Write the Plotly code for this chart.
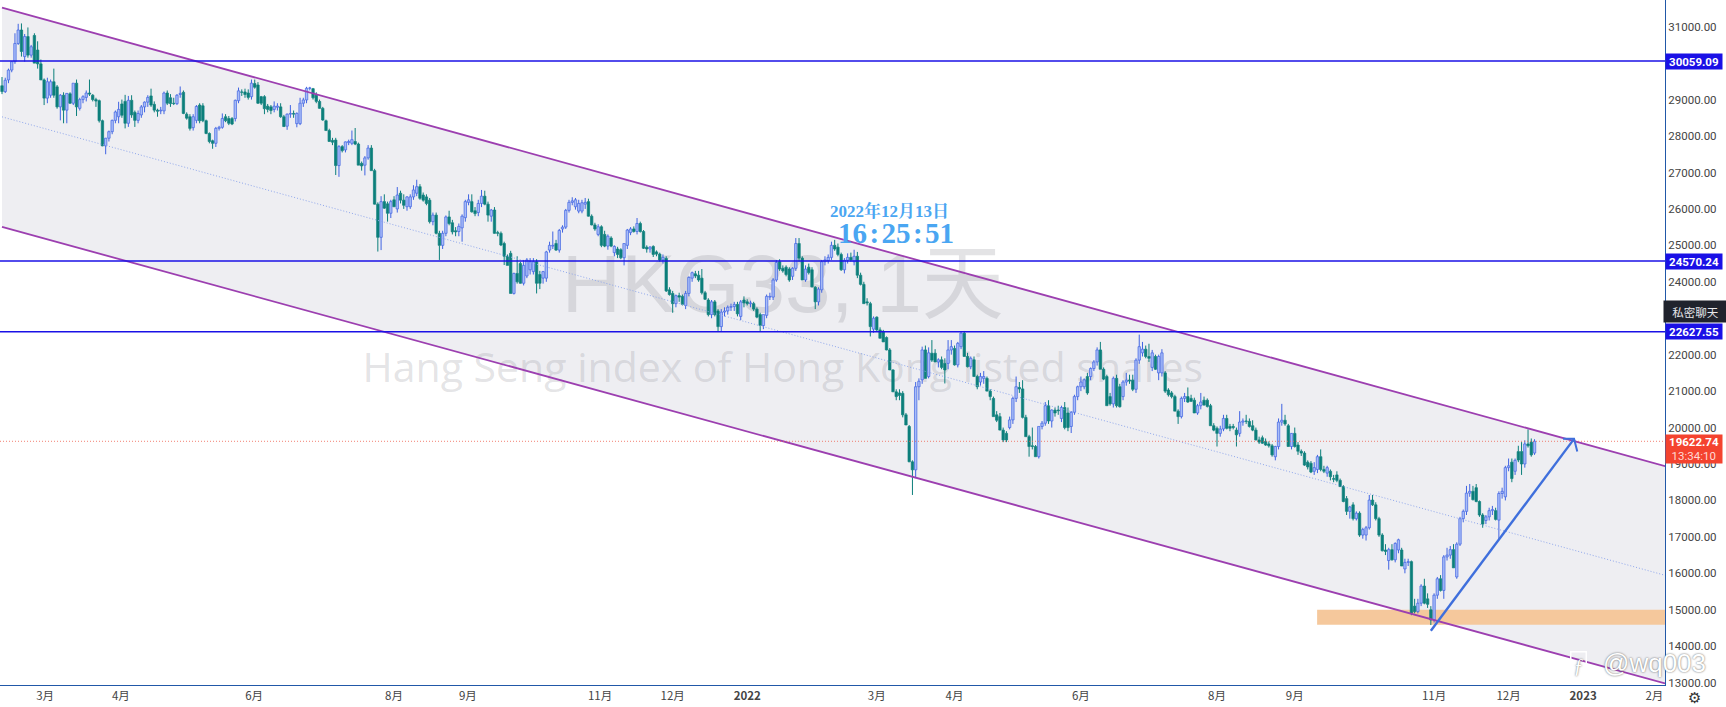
import plotly.graph_objects as go

open_px = [29380,29220,29540,29810,30040,30540,30910,30180,30730,30220,
30760,30360,29980,29540,29040,29120,29490,29350,28800,29120,
28710,29160,28900,29450,28760,29000,29060,29180,29120,29000,
28970,28420,27730,27940,28120,28430,28530,28880,28950,28350,
28980,28650,28430,28580,28800,28930,29100,28870,28710,28690,
28690,29180,29050,28900,28890,29140,29200,28600,28530,28230,
28430,28850,28830,28420,28070,27870,27800,28210,28240,28530,
28480,28480,28480,28970,29210,29210,29180,29080,29440,29400,
29080,29080,28820,28800,28730,28790,28800,28530,28270,28600,
28620,28340,28340,28900,28990,29310,29300,29120,28950,28760,
28420,28150,27880,27890,27190,27710,27620,27820,27800,27850,
27780,27250,27200,27400,27670,27050,26130,25220,26200,26140,
25880,26250,26000,26430,26240,26060,26060,26330,26430,26610,26380,26330,26240,25650,25830,25330,25000,25330,25780,25620,25400,25380,25480,25760,26180,26200,25950,25900,26150,26350,26130,25800,25970,25350,25330,25050,24700,24780,23680,24230,24500,23960,24160,24330,24280,24550,24200,24100,24100,24870,24980,25050,24870,25450,25500,25960,26180,
26060,25940,25940,26130,26200,25800,25560,25300,25510,25300,
24980,25200,24800,24900,24880,24660,25000,25350,25450,25380,
25600,25380,24950,24900,24970,24820,24760,24600,24640,23780,23680,23400,23620,23600,23350,23680,24100,24220,24180,24100,23700,23500,23100,23450,23200,22770,23170,23200,23300,23320,23380,23050,23500,23450,23400,23400,23250,23100,22800,23080,23580,23580,24050,24550,24370,24400,24350,24150,24370,25050,24650,24050,24400,24330,23850,23450,23780,24550,24580,24670,25000,24950,24750,24330,24590,24670,24550,24700,24180,23930,23450,23400,22700,23030,22680,22620,22470,22130,21580,20980,20950,20940,20350,20030,19060,18840,21120,21310,22130,21400,22040,22040,21800,21860,21760,21760,22130,22170,21720,22220,22590,21950,21670,21860,21400,21250,21350,21350,21000,20800,20350,20300,19930,19840,20000,20210,20800,21100,21060,20280,19750,19500,19480,19200,20030,20120,20600,20180,20480,20480,20250,20550,20400,20030,20420,20850,21120,21120,21400,21400,21620,21800,22130,21600,21400,20850,20650,21350,21120,20850,21250,21300,21300,21050,21850,22050,22150,21950,
21650,21950,21500,21500,21500,21030,20950,20850,20450,20300,20800,20850,20800,20750,20400,20600,20750,20750,20600,20050,19980,19840,19960,20250,20030,20030,19930,19840,20150,20180,20170,20050,19930,19660,19720,19620,19550,19500,19200,19480,20150,20200,20050,19480,19840,19520,19350,19300,19050,19020,18800,18850,19200,18850,18750,18800,18600,18700,18550,18380,18050,17700,17880,17500,17650,17050,17050,17250,18010,17880,17500,17050,16640,16350,16650,16370,16640,16640,16120,16300,16320,15100,14950,15180,15650,15300,15000,14720,15400,15850,15530,16450,16500,16650,15900,16800,17500,17700,18200,18250,18350,17970,17600,17450,17550,17720,17720,17460,18190,18100,18900,19050,18800,19340,19340,19000,19550,19600,19300]

high_px = [29620,29600,29850,30040,30820,31080,31090,30800,30980,30500,
30820,30600,30100,29580,29600,29550,29850,29400,29150,29200,
29180,29200,29450,29550,29050,29120,29250,29550,29150,29050,
29000,28450,27950,28150,28450,28700,28940,29000,29130,29100,
29120,28700,28700,28850,28950,29120,29300,28950,28750,28800,
29220,29250,29150,29050,29150,29360,29250,28650,28600,28600,
28850,28900,28900,28450,28100,27900,28250,28280,28620,28600,
28550,28520,29000,29330,29280,29300,29280,29550,29550,29480,
29100,29120,28880,28850,28950,28900,28900,28580,28620,28850,
28700,28650,29050,29050,29350,29350,29320,29200,29000,28800,
28450,28200,27950,27950,27750,27750,27850,27900,28150,28220,
27820,27300,27450,27750,27750,27100,26180,26350,26400,26200,
26250,26350,26600,26500,26400,26350,26400,26650,26800,26680,26450,26400,26300,25900,25900,25400,25400,25820,25950,25700,25500,25600,25850,26250,26400,26400,26050,26250,26520,26500,26200,26000,26050,25400,25380,25100,24750,24850,24250,24700,24550,24600,24650,24650,24650,24620,24300,24300,24850,25100,25380,25150,25450,25550,26000,26250,26320,
26300,26250,26250,26300,26280,25850,25620,25580,25550,25400,
25300,25250,25000,24960,24920,25050,25450,25500,25520,25750,
25650,25420,25000,24980,25000,24860,24800,24750,24700,23850,23750,23650,23700,23650,23750,24150,24280,24300,24300,24350,23750,23550,23500,23500,23250,23250,23300,23350,23400,23450,23450,23500,23600,23520,23480,23450,23300,23150,23100,23650,23700,24100,24600,24620,24450,24450,24400,24400,25200,25200,24700,24450,24500,24400,23880,23850,24600,24700,24750,25100,25150,25050,24800,24650,24780,24800,24880,24820,24250,24000,23550,23450,23050,23050,22750,22680,22500,22180,21600,21050,21050,21000,20400,20070,19100,21250,21350,22220,22250,22200,22400,22150,21900,21950,21900,22400,22400,22250,22350,22620,22650,22050,21950,21950,21450,21500,21550,21400,21050,20850,20450,20400,20000,19900,20300,20850,21400,21250,21300,20350,19800,20000,19520,20030,20180,20700,20750,20500,20550,20600,20600,20700,20550,20450,20900,21150,21400,21350,21500,21650,21850,22200,22350,21650,21450,20950,21400,21450,21200,21300,21500,21450,21450,21900,22550,22350,22250,22300,
22130,22000,22000,22150,21550,21080,21000,20900,20500,20850,20950,21100,20900,20820,20650,20950,20850,20800,20650,20120,20030,20050,20350,20350,20100,20100,20000,20450,20250,20350,20250,20200,20000,19750,19780,19700,19620,19550,19500,20250,20650,20350,20100,19850,20000,19600,19400,19350,19100,19080,19050,19250,19400,18950,18950,18850,18700,18800,18600,18420,18120,17850,17950,17700,17700,17250,17300,18150,18150,17950,17550,17100,16800,16700,16800,16850,16950,16700,16400,16400,16350,15300,15300,15700,15850,15450,15100,15450,15900,15950,16500,16700,16750,16800,16850,17550,17750,18400,18450,18400,18450,18000,17650,17600,17800,17850,17800,18250,18350,18950,19150,19150,19150,19500,19600,19650,19950,19700,19680]

low_px = [29150,29180,29450,29750,29980,30500,30180,30040,30150,30150,
30000,29850,29540,28850,28900,29050,29050,28750,28430,28350,
28350,28880,28850,28550,28700,28900,28950,29100,28950,28800,
28370,27720,27500,27850,28050,28350,28350,28500,28210,28250,
28500,28250,28350,28500,28650,28800,28800,28650,28530,28600,
28600,28850,28800,28850,28850,29050,28600,28450,28150,28150,
28350,28350,28380,28050,27800,27650,27700,28150,28200,28380,
28300,28300,28400,28900,29100,29050,29000,29000,29300,28880,
28850,28600,28650,28600,28650,28700,28500,28250,28170,28500,
28500,28240,28300,28800,28900,29250,29000,28900,28750,28420,
28150,27850,27750,26930,26880,27550,27550,27750,27750,27750,
27200,27050,26920,27350,27050,26120,24830,24870,26000,25650,
25750,26050,25900,26150,26000,25950,26000,26250,26350,26250,26200,26100,25600,25550,25300,24600,24900,25250,25550,25300,25250,25250,25100,25650,26100,25900,25800,25800,26050,26100,25650,25650,25320,25250,24980,24460,24450,23680,23650,23950,23950,23900,24100,24200,24200,23680,23800,23950,24000,24800,24900,24850,24800,25350,25450,25900,26100,
25980,25880,25880,26000,25790,25550,25400,25250,24950,24950,
24880,24950,24700,24650,24620,24450,24900,25280,25350,25300,
25350,24900,24800,24800,24680,24700,24550,24500,23720,23620,23150,23300,23450,23350,23250,23600,24000,24100,24000,23650,23500,23050,23000,23050,22630,22650,23050,23100,23200,23200,23050,22950,23300,23350,23300,23200,23000,22650,22700,23000,23500,23500,24000,24300,24250,24150,24000,24050,24300,24550,24050,24000,24200,23850,23250,23350,23700,24450,24500,24600,24850,24700,24300,24230,24500,24550,24450,24100,23900,23400,23350,22500,22600,22650,22450,22350,22120,21580,20980,20750,20750,20280,20070,19050,18150,18610,20750,21200,21350,21350,21800,21800,21650,21600,21210,21600,22000,21700,21650,22150,21950,21650,21600,21400,21050,21150,21200,21000,20750,20300,20150,19930,19600,19600,19950,20100,20700,20950,20250,19750,19200,19400,19200,19150,19950,20050,20100,20000,20300,20350,20150,19950,19900,19850,20350,20750,21000,21050,20900,21300,21550,21700,21600,21300,20600,20600,20550,20550,20550,20750,21150,21200,21000,20950,21750,21950,21900,21800,
21550,21580,21300,21400,20950,20850,20800,20450,20100,20250,20700,20680,20700,20400,20350,20500,20600,20550,20050,19900,19480,19750,19900,19950,19900,19950,19480,19750,20050,20100,20000,19900,19650,19550,19550,19500,19450,19200,19100,19400,20050,20050,19480,19400,19450,19250,19220,18950,18850,18750,18700,18750,18800,18750,18650,18550,18500,18500,18380,17950,17600,17500,17450,17450,17000,16950,16900,17200,17850,17450,17000,16600,16500,16100,16350,16300,16550,16200,16000,16200,14850,14900,14900,15100,15150,15050,14580,14650,15300,15500,15300,16350,16400,16150,15850,16750,17400,17600,18100,18000,17950,17550,17250,17350,17450,17600,17450,16920,18050,18000,18800,18500,18700,19050,18700,18900,19450,19200,19250]

close_px = [29220,29530,29810,30040,30540,30910,30320,30730,30220,30450,
30000,29980,29540,29040,29490,29490,29120,28800,29120,28710,
29170,28900,29450,28800,29000,29080,29180,29150,29000,28960,
28420,27730,27940,28120,28430,28660,28730,28570,28350,28980,
28580,28430,28620,28800,28930,29060,28850,28710,28680,28710,
29180,28900,28890,28890,29120,29170,28620,28490,28210,28530,
28810,28420,28420,28070,27850,27800,28210,28240,28480,28420,
28350,28330,28980,29240,29200,29140,29060,29450,29340,28900,
28900,28750,28730,28700,28820,28820,28530,28260,28600,28620,
28600,28620,28900,28990,29310,29320,29050,28950,28760,28440,
28150,27850,27830,27190,27710,27600,27840,27850,27900,27780,
27200,27180,27400,27670,27050,26130,25220,26200,26020,25880,
26200,26060,26380,26240,26100,26330,26330,26520,26610,26290,26240,26150,25650,25830,25330,25000,25330,25780,25600,25370,25370,25520,25800,26200,26250,25920,25870,26150,26350,26130,25830,25970,25330,25330,25010,24700,24450,23680,24230,24000,23960,24450,24600,24550,24550,23960,23960,24280,24820,25000,25000,24870,25410,25500,25960,26180,26220,
26250,26150,26170,26180,25800,25560,25450,25510,25000,24980,
25250,24980,24970,24750,24660,25050,25420,25450,25380,25600,
25380,24920,24900,24950,24750,24760,24600,24670,23750,23650,23400,23620,23580,23380,23680,24120,24250,24160,24050,23700,23520,23100,23450,23100,22770,23170,23200,23300,23320,23380,23120,23450,23420,23400,23420,23250,23030,22800,23100,23600,23600,24050,24530,24350,24300,24200,24050,24370,25050,24650,24050,24350,24250,23860,23450,23800,24550,24600,24670,25000,24900,24750,24330,24590,24670,24600,24700,24180,23930,23400,23420,22770,23000,22680,22450,22350,22130,21580,20980,20850,20880,20350,20070,19060,18840,21120,21270,22130,21350,22050,21850,21800,21860,21650,21580,22130,22220,21720,22310,22590,21950,21670,21900,21400,21120,21400,21400,21000,20850,20300,20200,19930,19660,19660,20210,20800,21120,21060,20280,19750,19480,19480,19200,20030,20120,20600,20180,20480,20400,20460,20550,20000,20000,20420,20850,21120,21250,21310,20950,21620,21800,22130,21600,21330,20600,20650,21350,20600,20570,21250,21300,21280,21050,21850,22220,22150,21950,21900,
22050,21600,21950,22050,21000,20900,20850,20450,20300,20800,20850,20700,20720,20400,20600,20700,20620,20580,20050,19930,19840,19960,20250,19980,19980,20000,19800,20150,20180,20170,20030,19930,19660,19600,19570,19520,19500,19250,19480,20150,20200,20100,19480,19840,19480,19350,19300,18970,18920,18780,18900,19200,18850,18800,18900,18650,18580,18550,18380,17970,17700,17820,17500,17650,17050,17200,17250,18010,17880,17500,17050,16620,16600,16650,16370,16820,16920,16200,16300,16320,14900,14950,15180,15650,15180,15150,14720,15400,15850,15530,16450,16500,16650,16150,16800,17500,17700,18200,18250,18020,17970,17600,17350,17550,17720,17750,17480,18190,18250,18900,18950,18600,19100,19110,19000,19550,19500,19250,19622.74]

if not (len(open_px) == len(high_px) == len(low_px) == len(close_px)):
    raise SystemExit(f"lengths {len(open_px)} {len(high_px)} {len(low_px)} {len(close_px)}")
bar_index = list(range(len(close_px)))

month_ticks = [13.3, 36.7, 77.8, 121, 143.8, 184.6, 207, 230, 270, 294, 333, 375, 399, 442, 465, 488, 510]
month_labels = ["3月", "4月", "6月", "8月", "9月", "11月", "12月", "<b>2022</b>", "3月", "4月", "6月", "8月", "9月", "11月", "12月", "<b>2023</b>", "2月"]
price_ticks = list(range(13000, 32000, 1000))

channel_x = [0, 513.3]
channel_upper = [31522, 18940]
channel_mid = [28527, 15945]
channel_lower = [25506, 12978]
level_values = [30059.09, 24570.24, 22627.55]
last_price = 19622.74
zone_x = [405.9, 513.3]
zone_y = [14590, 15000]
arrow_x = [441, 485.2]
arrow_y = [14425, 19690]
arrow_head_x = [481.8, 485.2, 486.2]
arrow_head_y = [19690, 19690, 19340]

X_RANGE = [-0.617, 513.27]
Y_RANGE = [12935, 31733]
PURPLE = "#9c3fb0"
BLUE = "#1a10e6"
UP_LINE = "#3f63e2"
UP_FILL = "#a8bcf8"
DOWN = "#0c7f7b"

fig = go.Figure()

def candles(rising, fill, edge):
    idx = [i for i in bar_index if (close_px[i] >= open_px[i]) == rising]
    tops = [max(open_px[i], close_px[i]) for i in idx]
    bottoms = [min(open_px[i], close_px[i]) for i in idx]
    fig.add_trace(go.Bar(x=idx, y=[t - b for t, b in zip(tops, bottoms)], base=bottoms, width=0.74,
                         marker=dict(color=fill, line=dict(color=edge, width=0.7)),
                         hoverinfo="skip", showlegend=False))
    wick_x, wick_y = [], []
    for i, t, b in zip(idx, tops, bottoms):
        wick_x += [i, i, None, i, i, None]
        wick_y += [high_px[i], t, None, b, low_px[i], None]
    fig.add_trace(go.Scatter(x=wick_x, y=wick_y, mode="lines", line=dict(color=edge, width=1),
                             hoverinfo="skip", showlegend=False))

candles(True, UP_FILL, UP_LINE)
candles(False, DOWN, DOWN)

def line(xs, ys, color, width, dash="solid"):
    fig.add_trace(go.Scatter(x=xs, y=ys, mode="lines", showlegend=False, hoverinfo="skip",
                             line=dict(color=color, width=width, dash=dash)))

line(channel_x, channel_upper, PURPLE, 1.8)
line(channel_x, channel_lower, PURPLE, 1.8)
line(channel_x, channel_mid, "#8ea6ec", 1, "1px,2px")
for v in level_values:
    line(X_RANGE, [v, v], BLUE, 1.6)
line(X_RANGE, [last_price, last_price], "#f0614f", 0.8, "1px,2px")
line(arrow_x, arrow_y, "#3f6fdc", 2.4)
line(arrow_head_x, arrow_head_y, "#3f6fdc", 2)

poly = (f"M {channel_x[0]} {channel_upper[0]} L {channel_x[1]} {channel_upper[1]} "
        f"L {channel_x[1]} {channel_lower[1]} L {channel_x[0]} {channel_lower[0]} Z")
fig.add_shape(type="path", path=poly, xref="x", yref="y", layer="below",
              fillcolor="#eeeef2", line=dict(width=0))
fig.add_shape(type="rect", x0=zone_x[0], x1=zone_x[1], y0=zone_y[0], y1=zone_y[1], xref="x", yref="y",
              layer="below", fillcolor="#f5c89c", line=dict(width=0))

def watermark(text, x, y, size, family):
    fig.add_shape(type="rect", x0=x - 1, x1=x + 1, y0=y - 10, y1=y + 10, xref="x", yref="y", layer="below",
                  line=dict(width=0), fillcolor="rgba(0,0,0,0)",
                  label=dict(text=text, textposition="middle center",
                             font=dict(size=size, color="rgba(140,140,148,0.24)", family=family)))

watermark("HKG33, 1天", 241, 24180, 82, "Liberation Sans, Noto Sans CJK SC")
watermark("Hang Seng index of Hong Kong listed shares", 241, 21600, 41, "Open Sans")

def note(text, x, y, size, color, family="Liberation Sans, Noto Sans CJK SC", shadow=None, **kw):
    font = dict(size=size, color=color, family=family)
    if shadow:
        font["shadow"] = shadow
    fig.add_annotation(text=text, x=x, y=y, xref=kw.pop("xref", "x"), yref=kw.pop("yref", "y"),
                       showarrow=False, font=font, **kw)

note("<b>2022年12月13日</b>", 274, 25940, 17, "#4aa6f2", family="Liberation Serif, Noto Serif CJK SC, Noto Sans CJK SC")
note("<b>16\u200a:\u200a25\u200a:\u200a51</b>", 276, 25340, 29, "#4aa6f2", family="Liberation Serif, Noto Sans CJK SC")

for v, label in zip(level_values, ["30059.09", "24570.24", "22627.55"]):
    note(f"<b>{label}</b>", 1, v, 11.5, "#ffffff", family="Roboto", xref="paper", xanchor="left",
         width=56, height=15, bgcolor=BLUE, align="center", borderpad=0)
note("<b>19622.74</b><br><span style='color:#ffd9d4'>13:34:10</span>", 1, last_price, 11.5, "#ffffff",
     family="Roboto", xref="paper", xanchor="left", yshift=-8, width=56, height=28,
     bgcolor="#f4432f", align="center", borderpad=0)
note("私密聊天", 1, 23185, 11.5, "#e8e8ec", family="Noto Sans CJK SC", xref="paper", xanchor="left",
     xshift=-2, width=63, height=21, bgcolor="#20232d", align="center", borderpad=0)
note("@wq003", 510, 13540, 26, "#ffffff", shadow="0 0 2px #555")
note("<i>ƒ</i>", 486.7, 13480, 20, "#ffffff", family="Liberation Serif", shadow="0 0 2px #555",
     bordercolor="#ffffff", borderwidth=1.5, borderpad=2)
note("⚙", 1.018, -0.019, 15, "#333333", family="DejaVu Sans", xref="paper", yref="paper", xanchor="center", yanchor="middle")

fig.update_layout(
    width=1726, height=707, autosize=False,
    margin=dict(l=0, r=61, t=0, b=22),
    paper_bgcolor="#ffffff", plot_bgcolor="#ffffff",
    showlegend=False, barmode="overlay",
    xaxis=dict(range=X_RANGE, showgrid=False, zeroline=False,
               tickmode="array", tickvals=month_ticks, ticktext=month_labels, ticks="", tickangle=0,
               tickfont=dict(size=11.5, color="#444444", family="Noto Sans CJK SC"),
               showline=True, linecolor="#2158a8", linewidth=1),
    yaxis=dict(range=Y_RANGE, side="right", showgrid=False, zeroline=False,
               tickmode="array", tickvals=price_ticks, ticktext=[f"{v:.2f}" for v in price_ticks], ticks="",
               tickfont=dict(size=11.5, color="#444444", family="Roboto"), ticklabelposition="outside",
               showline=True, linecolor="#2158a8", linewidth=1),
)
fig.write_html("out.html", config=dict(displayModeBar=False),
               post_script="document.body.style.margin='0';document.body.style.overflow='hidden';")
